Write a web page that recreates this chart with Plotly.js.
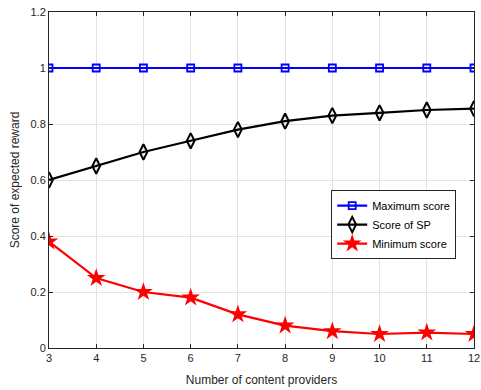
<!DOCTYPE html>
<html><head><meta charset="utf-8">
<script src="https://cdn.plot.ly/plotly-3.0.1.min.js"></script>
<style>html,body{margin:0;padding:0;background:#fff;}#c{width:481px;height:390px;}</style>
</head><body><div id="c"></div>
<script>
const providers = [3,4,5,6,7,8,9,10,11,12];
const maxScore = [1,1,1,1,1,1,1,1,1,1];
const spScore = [0.60,0.65,0.70,0.74,0.78,0.81,0.83,0.84,0.85,0.855];
const minScore = [0.38,0.25,0.20,0.18,0.12,0.08,0.06,0.05,0.055,0.05];
const xTicks = [3,4,5,6,7,8,9,10,11,12];
const yTicks = [0,0.2,0.4,0.6,0.8,1,1.2];
const yTickText = ['0','0.2','0.4','0.6','0.8','1','1.2'];

const traces = [
 {x:providers,y:maxScore,name:'Maximum score',mode:'lines+markers',line:{color:'#0000ff',width:2.2},marker:{symbol:'square-open',size:7,color:'#0000ff',line:{width:1.8}}},
 {x:providers,y:spScore,name:'Score of SP',mode:'lines+markers',line:{color:'#000000',width:2.2},marker:{symbol:'diamond-tall-open',size:11,color:'#000000',line:{width:2}}},
 {x:providers,y:minScore,name:'Minimum score',mode:'lines+markers',line:{color:'#ff0000',width:2.2},marker:{symbol:'star',size:14,color:'#ff0000'}}
];
const axisCommon = {showline:true,linecolor:'#262626',linewidth:1,mirror:'allticks',ticks:'inside',ticklen:4,tickcolor:'#262626',showgrid:true,gridcolor:'#e3e3e3',gridwidth:1,zeroline:false,tickfont:{family:'Liberation Sans, Arial',size:11,color:'#262626'}};
const layout = {
 width:481,height:390,margin:{l:49,r:7,t:12,b:42},
 paper_bgcolor:'#fff',plot_bgcolor:'#fff',
 font:{family:'Liberation Sans, Arial',color:'#262626'},
 xaxis:Object.assign({},axisCommon,{range:[3,12],tickvals:xTicks,title:{text:'Number of content providers',font:{size:12,color:'#262626'},standoff:12}}),
 yaxis:Object.assign({},axisCommon,{range:[0,1.2],tickvals:yTicks,ticktext:yTickText,title:{text:'Score of expected reward',font:{size:12,color:'#262626'},standoff:8}}),
 showlegend:true,
 legend:{x:0.664,y:0.47,xanchor:'left',yanchor:'top',bgcolor:'#fff',bordercolor:'#262626',borderwidth:1,font:{size:11,color:'#000'},tracegroupgap:0,itemwidth:30}
};
Plotly.newPlot('c',traces,layout,{displayModeBar:false,staticPlot:true});
</script></body></html>
